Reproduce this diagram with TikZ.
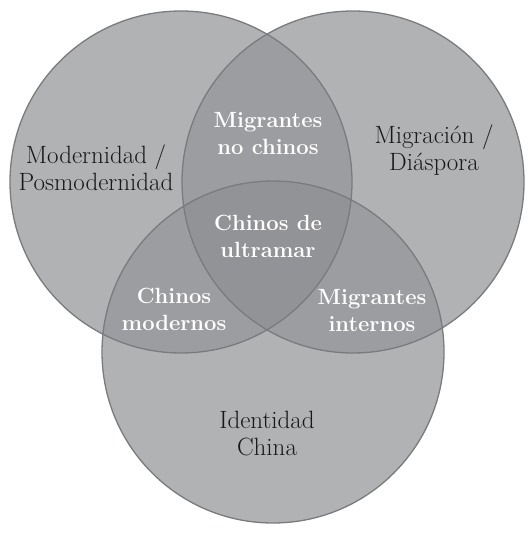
\documentclass[tikz,border=0pt]{standalone}
\usetikzlibrary{positioning}
\definecolor{ringfill}{HTML}{B1B2B4}
\definecolor{pairfill}{HTML}{9C9DA0}
\definecolor{corefill}{HTML}{929396}
\definecolor{ringline}{HTML}{7A7B7E}
\begin{document}
\begin{tikzpicture}[x=1pt,y=-1pt,
  dark/.style={font=\fontsize{25}{27}\selectfont, align=center, text=black!90},
  light/.style={font=\fontsize{22}{27}\selectfont\bfseries, align=center, text=white}]
\useasboundingbox (0,0) rectangle (532,535);
% circle centres
\coordinate (L) at (181,182);
\coordinate (R) at (353,182);
\coordinate (B) at (273,352);
\def\rad{171pt}
% plain discs
\foreach \c in {L,R,B} {
  \fill[ringfill] (\c) circle (\rad);
}
% pairwise overlaps
\begin{scope}
  \clip (L) circle (\rad);
  \fill[pairfill] (R) circle (\rad);
  \fill[pairfill] (B) circle (\rad);
\end{scope}
\begin{scope}
  \clip (R) circle (\rad);
  \fill[pairfill] (B) circle (\rad);
\end{scope}
% centre piece
\begin{scope}
  \clip (L) circle (\rad);
  \clip (R) circle (\rad);
  \fill[corefill] (B) circle (\rad);
\end{scope}
% outlines
\foreach \c in {L,R,B} {
  \draw[ringline, line width=1.3pt] (\c) circle (\rad);
}
% labels
\node[dark] (modern) at (96,168) {Modernidad /\\Posmodernidad};
\node[dark] (diaspora) at (434,150) {Migración /\\Diáspora};
\node[dark] (identidad) at (267,434) {Identidad\\China};
\node[light] (nochinos) at (268,134) {Migrantes\\no chinos};
\node[light] (ultramar) at (268,236) {Chinos de\\ultramar};
\node[light] (modernos) at (174,309) {Chinos\\modernos};
\node[light] (internos) at (372,311) {Migrantes\\internos};
\end{tikzpicture}
\end{document}
